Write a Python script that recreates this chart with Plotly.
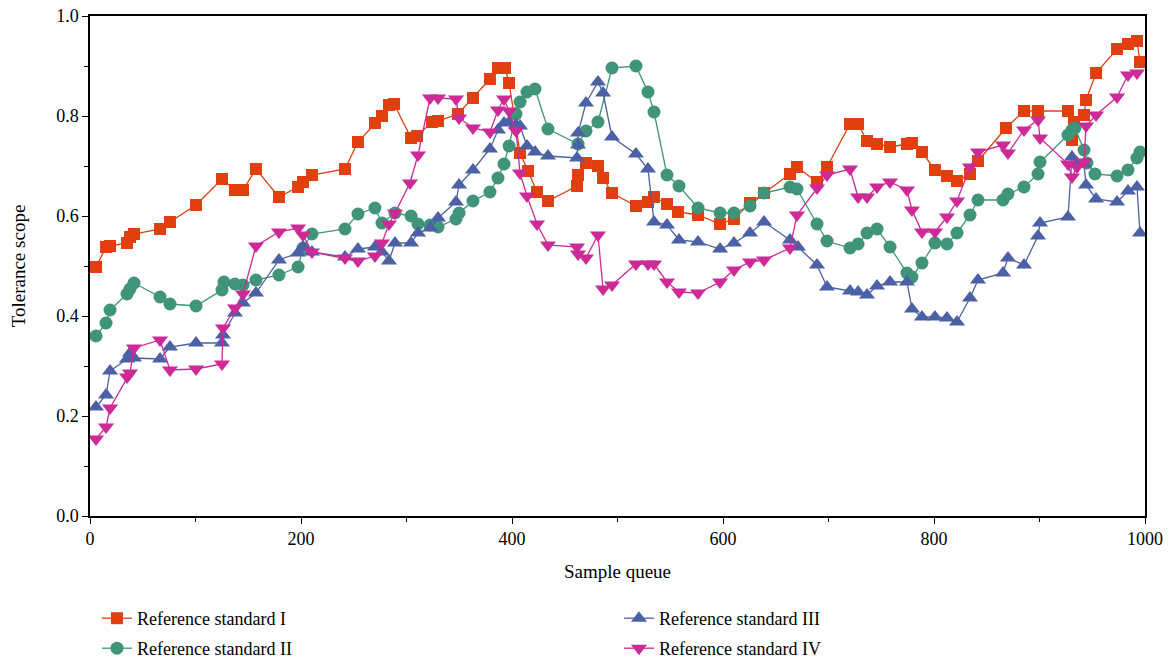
import plotly.graph_objects as go

# ---------------- data ----------------
x_I = [5.7, 15.2, 19.0, 35.1, 37.9, 41.7, 66.4, 75.8, 100.5, 125.1,
       137.4, 145.0, 157.3, 179.1, 197.2, 201.9, 210.4, 241.7, 254.0, 270.1,
       276.8, 283.4, 288.2, 304.3, 310.0, 324.2, 329.9, 348.8, 363.0, 379.1,
       386.7, 393.4, 397.2, 407.6, 415.2, 423.7, 434.1, 461.6, 462.6, 470.1,
       481.5, 486.3, 494.8, 517.5, 528.9, 534.6, 546.9, 557.3, 576.3, 597.2,
       610.4, 625.6, 638.9, 663.5, 670.1, 689.1, 698.6, 720.4, 728.0, 736.5,
       746.0, 758.3, 774.4, 779.1, 788.6, 800.9, 812.3, 821.8, 834.1, 841.7,
       868.2, 885.3, 898.6, 927.0, 930.8, 932.7, 942.2, 944.1, 953.6, 973.5,
       983.9, 992.4, 995.3]
y_I = [0.498, 0.538, 0.540, 0.546, 0.558, 0.564, 0.574, 0.588, 0.622, 0.674,
       0.652, 0.652, 0.694, 0.638, 0.658, 0.668, 0.682, 0.694, 0.748, 0.786,
       0.800, 0.822, 0.824, 0.756, 0.760, 0.788, 0.790, 0.804, 0.836, 0.874,
       0.896, 0.896, 0.866, 0.726, 0.690, 0.648, 0.630, 0.660, 0.682, 0.706,
       0.700, 0.676, 0.646, 0.620, 0.628, 0.638, 0.624, 0.608, 0.602, 0.584,
       0.594, 0.626, 0.646, 0.684, 0.698, 0.668, 0.698, 0.784, 0.784, 0.750,
       0.744, 0.738, 0.744, 0.746, 0.728, 0.692, 0.680, 0.670, 0.684, 0.710,
       0.776, 0.810, 0.810, 0.810, 0.752, 0.788, 0.802, 0.832, 0.886, 0.934,
       0.944, 0.950, 0.908]

x_II = [5.7, 15.2, 19.0, 35.1, 37.9, 41.7, 66.4, 75.8, 100.5, 125.1,
        127.0, 137.4, 145.0, 157.3, 179.1, 197.2, 201.9, 210.4, 241.7, 254.0,
        270.1, 276.8, 289.1, 304.3, 310.9, 322.3, 329.9, 346.9, 349.8, 363.0,
        379.1, 386.7, 392.4, 397.2, 403.8, 407.6, 414.2, 421.8, 434.1, 462.6,
        470.1, 481.5, 494.8, 517.5, 528.9, 534.6, 546.9, 558.3, 576.3, 597.2,
        610.4, 625.6, 638.9, 663.5, 670.1, 689.1, 698.6, 720.4, 728.0, 736.5,
        746.0, 758.3, 774.4, 779.1, 788.6, 800.9, 812.3, 821.8, 834.1, 841.7,
        865.4, 870.1, 885.3, 898.6, 900.5, 927.0, 930.8, 933.6, 942.2, 945.0,
        952.6, 973.5, 983.9, 992.4, 995.3]
y_II = [0.360, 0.386, 0.412, 0.444, 0.454, 0.466, 0.438, 0.424, 0.420, 0.452,
        0.468, 0.464, 0.462, 0.472, 0.482, 0.498, 0.536, 0.564, 0.574, 0.604,
        0.616, 0.586, 0.606, 0.600, 0.584, 0.582, 0.578, 0.594, 0.606, 0.630,
        0.648, 0.676, 0.704, 0.740, 0.804, 0.828, 0.848, 0.854, 0.774, 0.744,
        0.770, 0.788, 0.896, 0.900, 0.848, 0.808, 0.682, 0.660, 0.616, 0.606,
        0.606, 0.620, 0.646, 0.658, 0.654, 0.584, 0.550, 0.536, 0.544, 0.566,
        0.574, 0.538, 0.486, 0.478, 0.506, 0.546, 0.544, 0.566, 0.602, 0.632,
        0.632, 0.644, 0.658, 0.684, 0.708, 0.762, 0.772, 0.776, 0.732, 0.706,
        0.684, 0.680, 0.692, 0.716, 0.728]

x_III = [5.7, 15.2, 19.0, 35.1, 37.9, 41.7, 66.4, 75.8, 100.5, 125.1,
         126.1, 137.4, 145.0, 157.3, 179.1, 197.2, 201.9, 210.4, 241.7, 254.0,
         270.1, 276.8, 283.4, 289.1, 304.3, 310.9, 322.3, 329.9, 346.9, 349.8,
         363.0, 379.1, 386.7, 392.4, 397.2, 403.8, 407.6, 414.2, 421.8, 434.1,
         461.6, 462.6, 462.6, 470.1, 481.5, 486.3, 494.8, 517.5, 528.9, 534.6,
         546.9, 558.3, 576.3, 597.2, 610.4, 625.6, 638.9, 663.5, 671.1, 689.1,
         698.6, 720.4, 728.0, 736.5, 746.0, 758.3, 774.4, 779.1, 788.6, 800.9,
         812.3, 821.8, 834.1, 841.7, 865.4, 870.1, 885.3, 898.6, 900.5, 927.0,
         930.8, 935.5, 942.2, 944.1, 953.6, 973.5, 983.9, 992.4, 995.3]
y_III = [0.218, 0.242, 0.290, 0.314, 0.326, 0.316, 0.314, 0.338, 0.346, 0.346,
         0.362, 0.406, 0.426, 0.446, 0.512, 0.526, 0.538, 0.528, 0.518, 0.534,
         0.538, 0.528, 0.510, 0.546, 0.546, 0.566, 0.576, 0.596, 0.628, 0.662,
         0.692, 0.734, 0.772, 0.786, 0.788, 0.782, 0.780, 0.740, 0.728, 0.720,
         0.716, 0.742, 0.766, 0.826, 0.868, 0.846, 0.758, 0.724, 0.694, 0.588,
         0.582, 0.552, 0.548, 0.534, 0.546, 0.566, 0.588, 0.552, 0.538, 0.502,
         0.458, 0.450, 0.448, 0.442, 0.460, 0.468, 0.468, 0.414, 0.398, 0.398,
         0.396, 0.388, 0.436, 0.472, 0.486, 0.516, 0.502, 0.560, 0.586, 0.598,
         0.718, 0.706, 0.704, 0.662, 0.634, 0.628, 0.650, 0.658, 0.566]

x_IV = [5.7, 15.2, 19.0, 35.1, 37.9, 41.7, 66.4, 75.8, 100.5, 125.1,
        126.1, 137.4, 145.0, 157.3, 179.1, 197.2, 201.9, 210.4, 241.7, 254.0,
        270.1, 276.8, 283.4, 289.1, 303.3, 310.9, 322.3, 329.9, 346.9, 349.8,
        363.0, 379.1, 386.7, 392.4, 397.2, 403.8, 407.6, 414.2, 423.7, 434.1,
        461.6, 462.6, 470.1, 481.5, 486.3, 494.8, 517.5, 528.9, 534.6, 546.9,
        558.3, 576.3, 597.2, 610.4, 625.6, 638.9, 663.5, 670.1, 689.1, 698.6,
        720.4, 728.0, 736.5, 746.0, 758.3, 774.4, 779.1, 788.6, 800.9, 812.3,
        821.8, 834.1, 841.7, 865.4, 870.1, 885.3, 898.6, 900.5, 927.0, 930.8,
        935.5, 942.2, 944.1, 953.6, 973.5, 983.9, 992.4]
y_IV = [0.154, 0.178, 0.216, 0.278, 0.286, 0.336, 0.352, 0.292, 0.294, 0.304,
        0.376, 0.416, 0.444, 0.540, 0.568, 0.576, 0.562, 0.528, 0.516, 0.510,
        0.520, 0.546, 0.584, 0.606, 0.666, 0.722, 0.836, 0.836, 0.834, 0.796,
        0.776, 0.768, 0.812, 0.834, 0.810, 0.770, 0.686, 0.640, 0.584, 0.542,
        0.538, 0.524, 0.516, 0.562, 0.454, 0.462, 0.504, 0.504, 0.504, 0.468,
        0.448, 0.446, 0.468, 0.492, 0.508, 0.512, 0.536, 0.602, 0.656, 0.682,
        0.694, 0.638, 0.638, 0.658, 0.668, 0.652, 0.612, 0.568, 0.568, 0.598,
        0.630, 0.698, 0.728, 0.742, 0.726, 0.772, 0.792, 0.756, 0.704, 0.678,
        0.698, 0.708, 0.780, 0.802, 0.838, 0.882, 0.886]

series_names = ["Reference standard I", "Reference standard II",
                "Reference standard III", "Reference standard IV"]
x_ticks = [0, 200, 400, 600, 800, 1000]
y_ticks = [0.0, 0.2, 0.4, 0.6, 0.8, 1.0]

# ---------------- styling ----------------
FONT = "Liberation Serif, DejaVu Serif, serif"
colors = ["#E23F10", "#3F9479", "#4C60A5", "#CD2A98"]
symbols = ["square", "circle", "triangle-up", "triangle-down"]
sizes = [12, 13, 14, 14]
legend_ids = ["legend", "legend2", "legend3", "legend4"]
# legend positions (paper coords): I top-left, II bottom-left, III top-right, IV bottom-right
legend_pos = [(0.0066, -0.168), (0.0066, -0.228), (0.5014, -0.168), (0.5014, -0.228)]

fig = go.Figure()
for xs, ys, name, c, s, sz, lg in zip([x_I, x_II, x_III, x_IV],
                                       [y_I, y_II, y_III, y_IV],
                                       series_names, colors, symbols, sizes, legend_ids):
    assert len(xs) == len(ys), name
    fig.add_trace(go.Scatter(
        x=xs, y=ys, name=name, mode="lines+markers",
        line=dict(color=c, width=1.3),
        marker=dict(symbol=s, size=sz, color=c, line=dict(width=0)),
        legend=lg,
    ))

axis_common = dict(
    showline=True, linecolor="black", linewidth=1.5, mirror=True,
    ticks="outside", ticklen=6, tickwidth=1.3, tickcolor="black",
    showgrid=False, zeroline=False, automargin=False,
    tickfont=dict(family=FONT, size=18, color="black"),
)

legend_layouts = {}
for lg, (lx, ly) in zip(legend_ids, legend_pos):
    legend_layouts[lg] = dict(
        x=lx, xanchor="left", y=ly, yanchor="top",
        font=dict(family=FONT, size=18, color="black"),
        itemwidth=30, bgcolor="rgba(0,0,0,0)",
    )

fig.update_layout(
    width=1171, height=661,
    paper_bgcolor="white", plot_bgcolor="white",
    margin=dict(l=90, r=26, t=16, b=145, autoexpand=False),
    font=dict(family=FONT, size=18, color="black"),
    xaxis=dict(range=[0, 1000], tickvals=x_ticks,
               minor=dict(dtick=100, ticklen=4, ticks="outside", tickcolor="black"),
               title=dict(text="Sample queue", font=dict(family=FONT, size=19), standoff=16),
               **axis_common),
    yaxis=dict(range=[0, 1.0], tickvals=y_ticks, tickformat=".1f",
               minor=dict(dtick=0.1, ticklen=4, ticks="outside", tickcolor="black"),
               title=dict(text="Tolerance scope", font=dict(family=FONT, size=19), standoff=26),
               **axis_common),
    showlegend=True,
    **legend_layouts,
)

# remove the page's default 8px body margin so the figure sits at the window's top-left
fig.write_html("out.html",
               config={"displayModeBar": False},
               post_script="document.body.style.margin='0';document.body.style.overflow='hidden';")
